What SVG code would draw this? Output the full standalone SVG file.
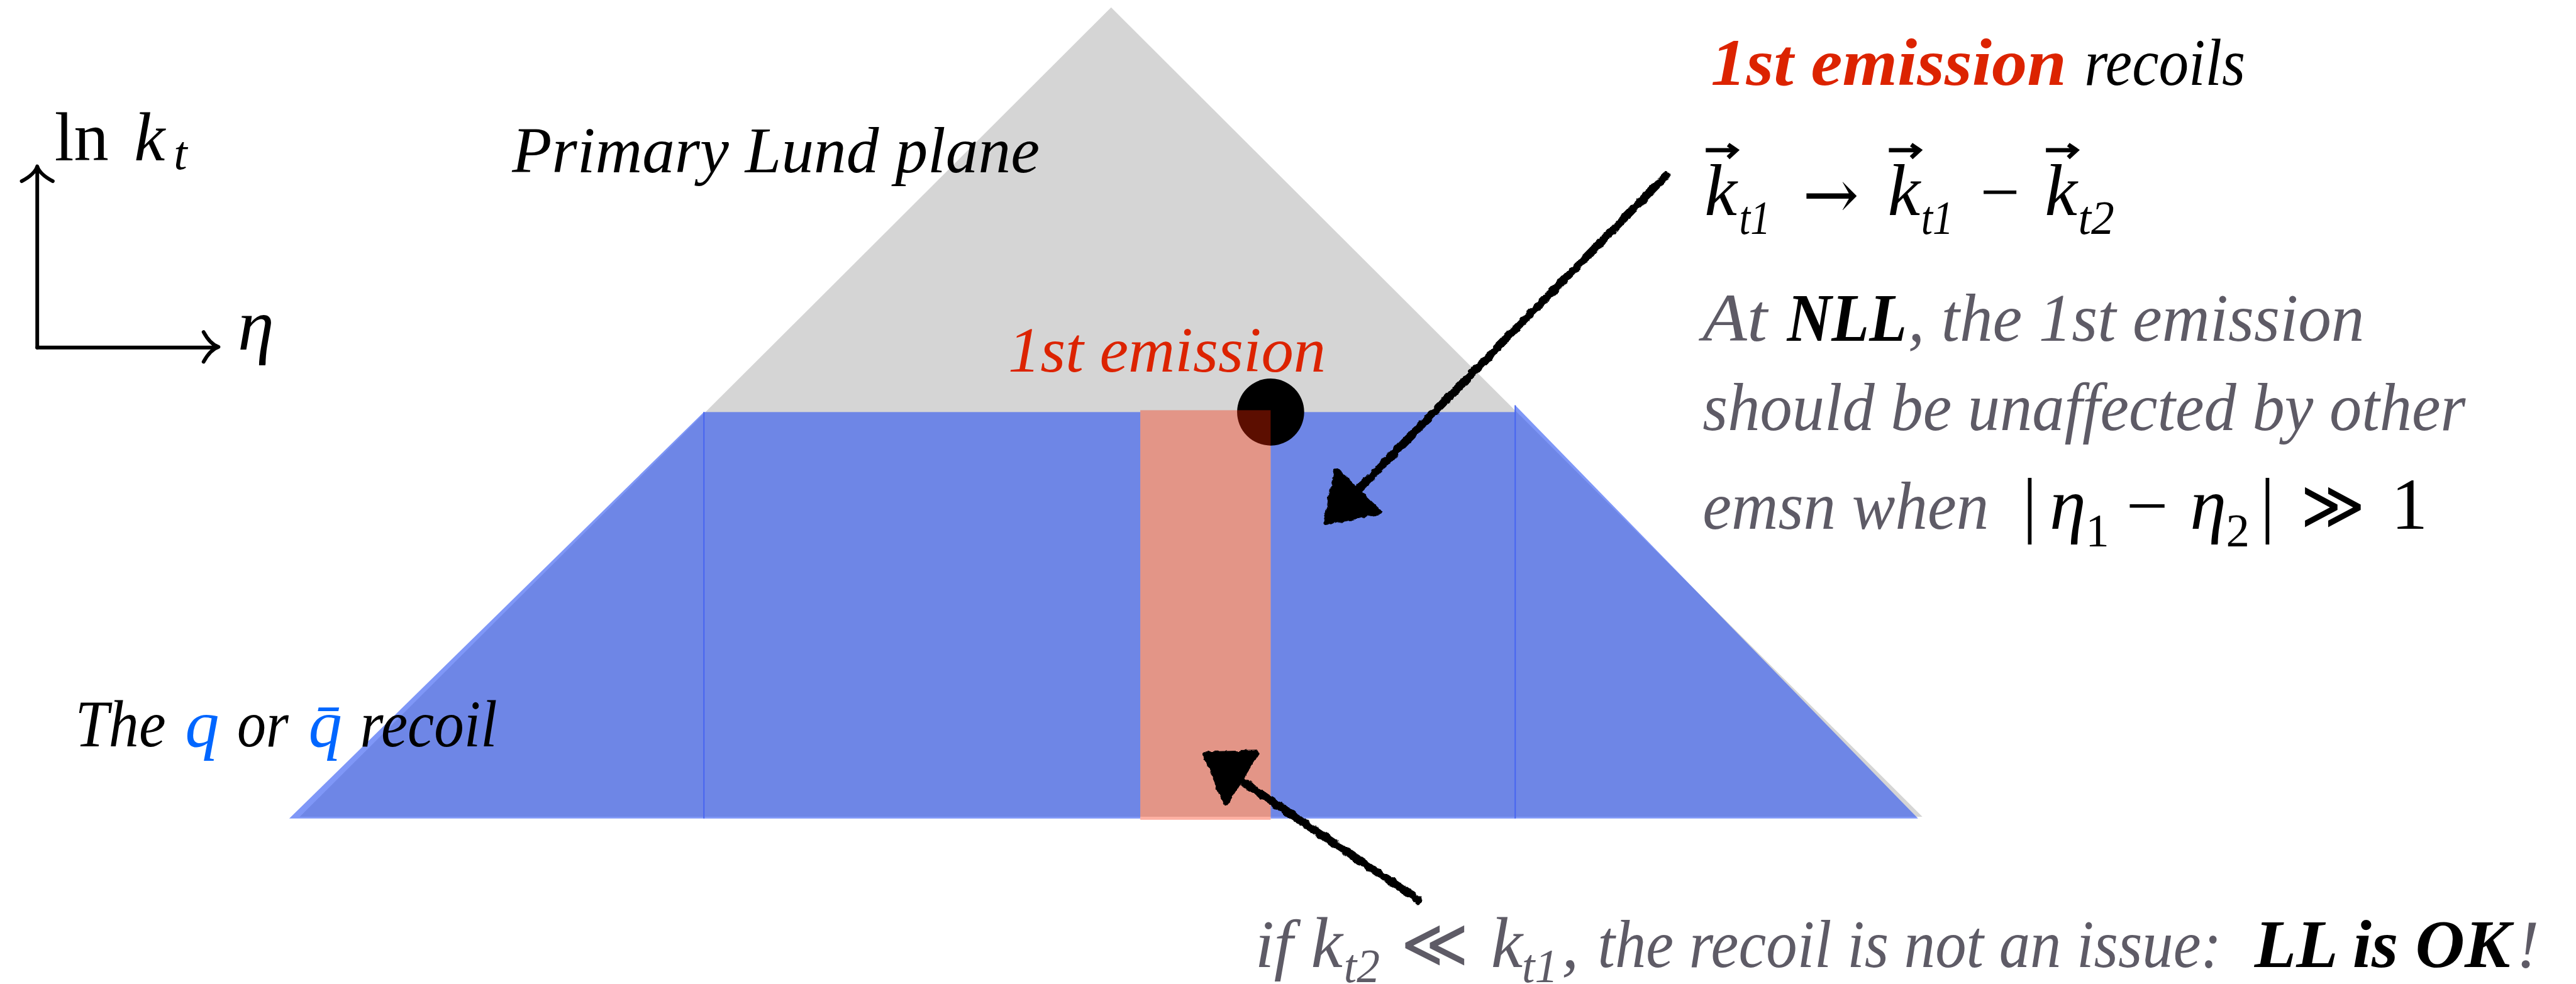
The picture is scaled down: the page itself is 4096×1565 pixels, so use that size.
<svg xmlns="http://www.w3.org/2000/svg" width="4096" height="1565" viewBox="0 0 4096 1565">
<defs>
<style>
text{font-family:"Liberation Serif","Times New Roman",serif;}
.it{font-style:italic;}
.bd{font-weight:bold;}
.gr{fill:#5e5b66;}
.bk{fill:#000;}
.red{fill:#dc2300;}
.bq{fill:#0066ff;}
.sym{font-family:"DejaVu Serif",serif;}
.blue{fill:rgb(42,82,242);fill-opacity:0.6;}
.sep{stroke:rgb(70,100,240);stroke-width:2;}
.ax{fill:none;stroke:#000;stroke-width:6;stroke-linecap:round;stroke-linejoin:round;}
.hand{stroke:#000;stroke-width:13;stroke-linecap:round;fill:none;}
.handhead{fill:#000;stroke:#000;stroke-width:8;stroke-linejoin:round;}
.vec{stroke:#000;stroke-width:7;fill:none;}
</style>
<filter id="rough" x="-10%" y="-10%" width="120%" height="120%">
<feTurbulence type="fractalNoise" baseFrequency="0.09" numOctaves="2" seed="3" result="n"/>
<feDisplacementMap in="SourceGraphic" in2="n" scale="7" xChannelSelector="R" yChannelSelector="G"/>
</filter>
</defs>
<rect width="4096" height="1565" fill="#fff"/>
<g transform="scale(0.987)">
<g id="gray-plane"><polygon points="1790,12 483,1316 3097,1316" fill="#d5d5d5"/></g>
<g id="blue-region">
<polygon class="blue" points="1134,664 466,1319 1134,1319"/>
<rect class="blue" x="1134" y="664" width="703" height="655"/>
<rect class="blue" x="2047" y="664" width="394" height="655"/>
<polygon class="blue" points="2441,653 2441,1319 3090,1319"/>
<line class="sep" x1="1134" y1="664" x2="1134" y2="1319"/>
<line class="sep" x1="2441" y1="653" x2="2441" y2="1319"/>
</g>
<g id="emission-dot"><circle cx="2047" cy="664" r="54" fill="#000"/></g>
<g id="pink-strip"><rect x="1837" y="661" width="210" height="660" fill="rgb(251,38,0)" fill-opacity="0.366"/></g>

<g id="axes">
<path class="ax" d="M60,560 L60,270 M35,292 C48,285 57,278 60,268 C63,278 72,285 85,292"/>
<path class="ax" d="M60,560 L350,560 M328,535 C335,548 343,556 352,559 C343,562 335,570 328,583"/>
<text x="88" y="258" font-size="112">ln</text>
<text class="it" x="216" y="258" font-size="112">k</text>
<text class="it" x="280" y="273" font-size="78">t</text>
<text class="it" x="383" y="563" font-size="118">η</text>
</g>

<g id="label-primary"><text class="it bk" x="825" y="278" font-size="105" textLength="850" lengthAdjust="spacingAndGlyphs">Primary Lund plane</text></g>
<g id="label-emission"><text class="it red" x="1624" y="599" font-size="104" textLength="512" lengthAdjust="spacingAndGlyphs">1st emission</text></g>

<g id="label-recoils">
<text class="it bd red" x="2756" y="137" font-size="108" textLength="573" lengthAdjust="spacingAndGlyphs">1st emission</text>
<text class="it bk" x="3358" y="137" font-size="108" textLength="259" lengthAdjust="spacingAndGlyphs">recoils</text>
<text class="it" x="2746" y="347" font-size="118">k</text>
<text class="it" x="2802" y="377" font-size="78" textLength="50" lengthAdjust="spacingAndGlyphs">t1</text>
<text class="sym" x="2904" y="352" font-size="110" textLength="91" lengthAdjust="spacingAndGlyphs">→</text>
<text class="it" x="3041" y="347" font-size="118">k</text>
<text class="it" x="3095" y="377" font-size="78" textLength="52" lengthAdjust="spacingAndGlyphs">t1</text>
<text x="3190" y="347" font-size="110" textLength="64" lengthAdjust="spacingAndGlyphs">−</text>
<text class="it" x="3294" y="347" font-size="118">k</text>
<text class="it" x="3348" y="377" font-size="78" textLength="58" lengthAdjust="spacingAndGlyphs">t2</text>
<path class="vec" d="M2748,242 H2794 M2784,233 L2797,242 L2784,254"/>
<path class="vec" d="M3043,242 H3089 M3079,233 L3092,242 L3079,254"/>
<path class="vec" d="M3296,242 H3342 M3332,233 L3345,242 L3332,254"/>
</g>

<g id="label-nll">
<text class="it gr" x="2743" y="549" font-size="110" textLength="104" lengthAdjust="spacingAndGlyphs">At</text>
<text class="it bd bk" x="2879" y="549" font-size="110" textLength="193" lengthAdjust="spacingAndGlyphs">NLL</text>
<text class="it gr" x="3074" y="549" font-size="110" textLength="735" lengthAdjust="spacingAndGlyphs">, the 1st emission</text>
<text class="it gr" x="2743" y="693" font-size="110" textLength="1229" lengthAdjust="spacingAndGlyphs">should be unaffected by other</text>
<text class="it gr" x="2743" y="852" font-size="110" textLength="461" lengthAdjust="spacingAndGlyphs">emsn when</text>
<text x="3258" y="852" font-size="118">|</text>
<text class="it" x="3302" y="852" font-size="118">η</text>
<text x="3360" y="880" font-size="76">1</text>
<text x="3425" y="852" font-size="110" textLength="68" lengthAdjust="spacingAndGlyphs">−</text>
<text class="it" x="3528" y="852" font-size="118">η</text>
<text x="3586" y="880" font-size="76">2</text>
<text x="3641" y="852" font-size="118">|</text>
<text class="sym" x="3706" y="852" font-size="110" textLength="104" lengthAdjust="spacingAndGlyphs">≫</text>
<text x="3852" y="852" font-size="118">1</text>
</g>

<g id="label-quark">
<text class="it bk" x="121" y="1203" font-size="108" textLength="146" lengthAdjust="spacingAndGlyphs">The</text>
<text class="it bq" x="298" y="1203" font-size="108" textLength="55" lengthAdjust="spacingAndGlyphs">q</text>
<text class="it bk" x="382" y="1203" font-size="108" textLength="83" lengthAdjust="spacingAndGlyphs">or</text>
<text class="it bq" x="497" y="1203" font-size="108">q̄</text>
<text class="it bk" x="580" y="1203" font-size="108" textLength="221" lengthAdjust="spacingAndGlyphs">recoil</text>
</g>

<g id="label-ll">
<text class="it gr" x="2022" y="1558" font-size="110">if</text>
<text class="it gr" x="2112" y="1558" font-size="115">k</text>
<text class="it gr" x="2165" y="1583" font-size="78" textLength="58" lengthAdjust="spacingAndGlyphs">t2</text>
<text class="gr sym" x="2256" y="1558" font-size="110" textLength="110" lengthAdjust="spacingAndGlyphs">≪</text>
<text class="it gr" x="2402" y="1558" font-size="115">k</text>
<text class="it gr" x="2452" y="1583" font-size="78" textLength="58" lengthAdjust="spacingAndGlyphs">t1</text>
<text class="it gr" x="2516" y="1558" font-size="110">,</text>
<text class="it gr" x="2574" y="1558" font-size="110" textLength="1005" lengthAdjust="spacingAndGlyphs">the recoil is not an issue:</text>
<text class="it bd bk" x="3632" y="1558" font-size="110" textLength="412" lengthAdjust="spacingAndGlyphs">LL is OK</text>
<text class="it gr" x="4054" y="1558" font-size="110">!</text>
</g>

<g id="connectors" filter="url(#rough)">
<line class="hand" x1="2684" y1="283" x2="2182" y2="795"/>
<polygon class="handhead" points="2153,758 2222,825 2136,842"/>
<line class="hand" x1="2285" y1="1450" x2="1995" y2="1255"/>
<polygon class="handhead" points="1941,1215 2025,1213 1975,1293"/>
</g>
</g>
</svg>
